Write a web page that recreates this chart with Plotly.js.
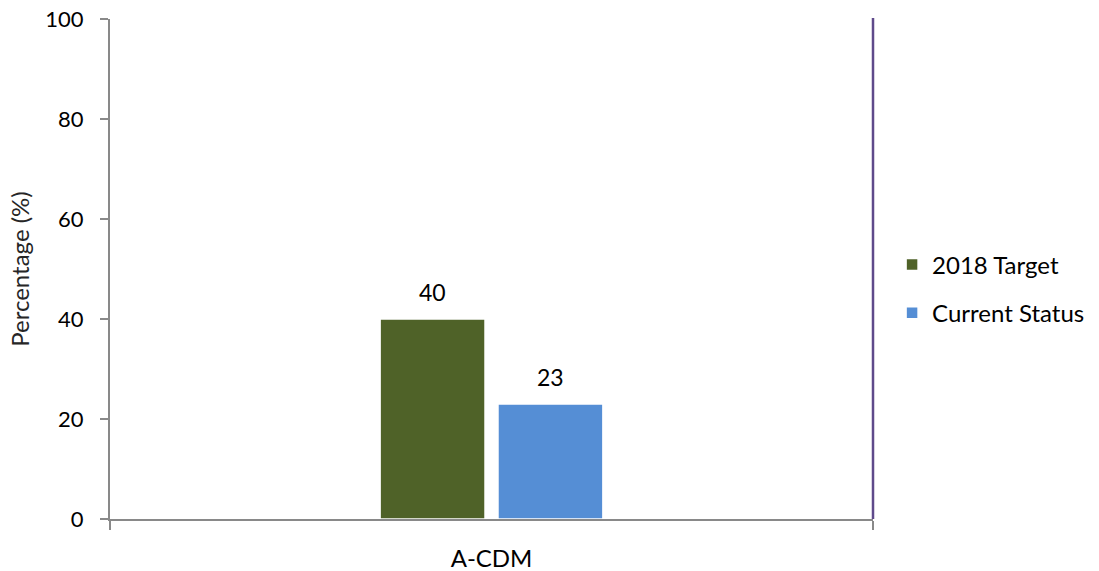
<!DOCTYPE html>
<html>
<head>
<meta charset="utf-8">
<script src="https://cdn.plot.ly/plotly-3.0.1.min.js"></script>
<style>html,body{margin:0;padding:0;background:#fff;}#chart{width:1099px;height:571px;}</style>
</head>
<body>
<div id="chart"></div>
<script>
const categories = ["A-CDM"];
const seriesNames = ["2018 Target", "Current Status"];
const target2018 = [40];
const currentStatus = [23];
const yTicks = [0, 20, 40, 60, 80, 100];

const FONT = "Lato, 'Open Sans', sans-serif";
const FS_NUM = 22;
const FS_TXT = 24;
const colors = ["#4f6228", "#558ed5"];
const values = [target2018, currentStatus];
const groupShift = [-59, 59];

const traces = values.map((v, i) => ({
  type: "bar",
  name: seriesNames[i],
  x: categories,
  y: v,
  legendgroup: "g" + i,
  marker: { color: colors[i], line: { color: "#ffffff", width: 1.5 } },
  hoverinfo: "x+y+name"
}));

const annotations = [];
values.forEach((v, i) => {
  v.forEach((val, j) => {
    annotations.push({
      x: categories[j], y: val, xref: "x", yref: "y",
      text: String(val), showarrow: false,
      xshift: groupShift[i], yshift: 27,
      xanchor: "center", yanchor: "middle",
      font: { family: FONT, size: 23, color: "#000" }
    });
  });
});

const layout = {
  width: 1099,
  height: 571,
  margin: { l: 110, r: 226, t: 19, b: 52, autoexpand: false },
  paper_bgcolor: "#ffffff",
  plot_bgcolor: "#ffffff",
  font: { family: FONT, size: FS_TXT, color: "#000" },
  barmode: "group",
  bargap: 0.691,
  bargroupgap: 0.11,
  showlegend: true,
  legend: {
    x: 1.025, xanchor: "left",
    y: 0.46, yanchor: "middle",
    font: { family: FONT, size: FS_TXT, color: "#000" },
    traceorder: "grouped",
    tracegroupgap: 14,
    bgcolor: "rgba(0,0,0,0)"
  },
  xaxis: {
    type: "category",
    range: [-0.5, 0.5],
    tickson: "boundaries",
    ticks: "outside",
    ticklen: 9,
    tickwidth: 2,
    tickcolor: "#898989",
    showline: true,
    linecolor: "#898989",
    linewidth: 2,
    showgrid: false,
    zeroline: false,
    ticklabelstandoff: 17,
    tickfont: { family: FONT, size: FS_TXT, color: "#000" }
  },
  yaxis: {
    range: [0, 100],
    tickvals: yTicks,
    ticktext: yTicks.map(String),
    ticks: "outside",
    ticklen: 8,
    tickwidth: 2,
    tickcolor: "#898989",
    showline: true,
    linecolor: "#898989",
    linewidth: 2,
    showgrid: false,
    zeroline: false,
    ticklabelstandoff: 12,
    tickfont: { family: FONT, size: FS_NUM, color: "#000" },
    title: { text: "Percentage (%)", font: { family: FONT, size: FS_TXT, color: "#262626" }, standoff: 9 }
  },
  annotations: annotations,
  shapes: [{
    type: "line", xref: "paper", yref: "paper",
    x0: 1, x1: 1, y0: 0, y1: 1.002,
    line: { color: "#5f4a8b", width: 2.5 }
  }]
};

Plotly.newPlot("chart", traces, layout, { displayModeBar: false, staticPlot: true });
</script>
</body>
</html>
